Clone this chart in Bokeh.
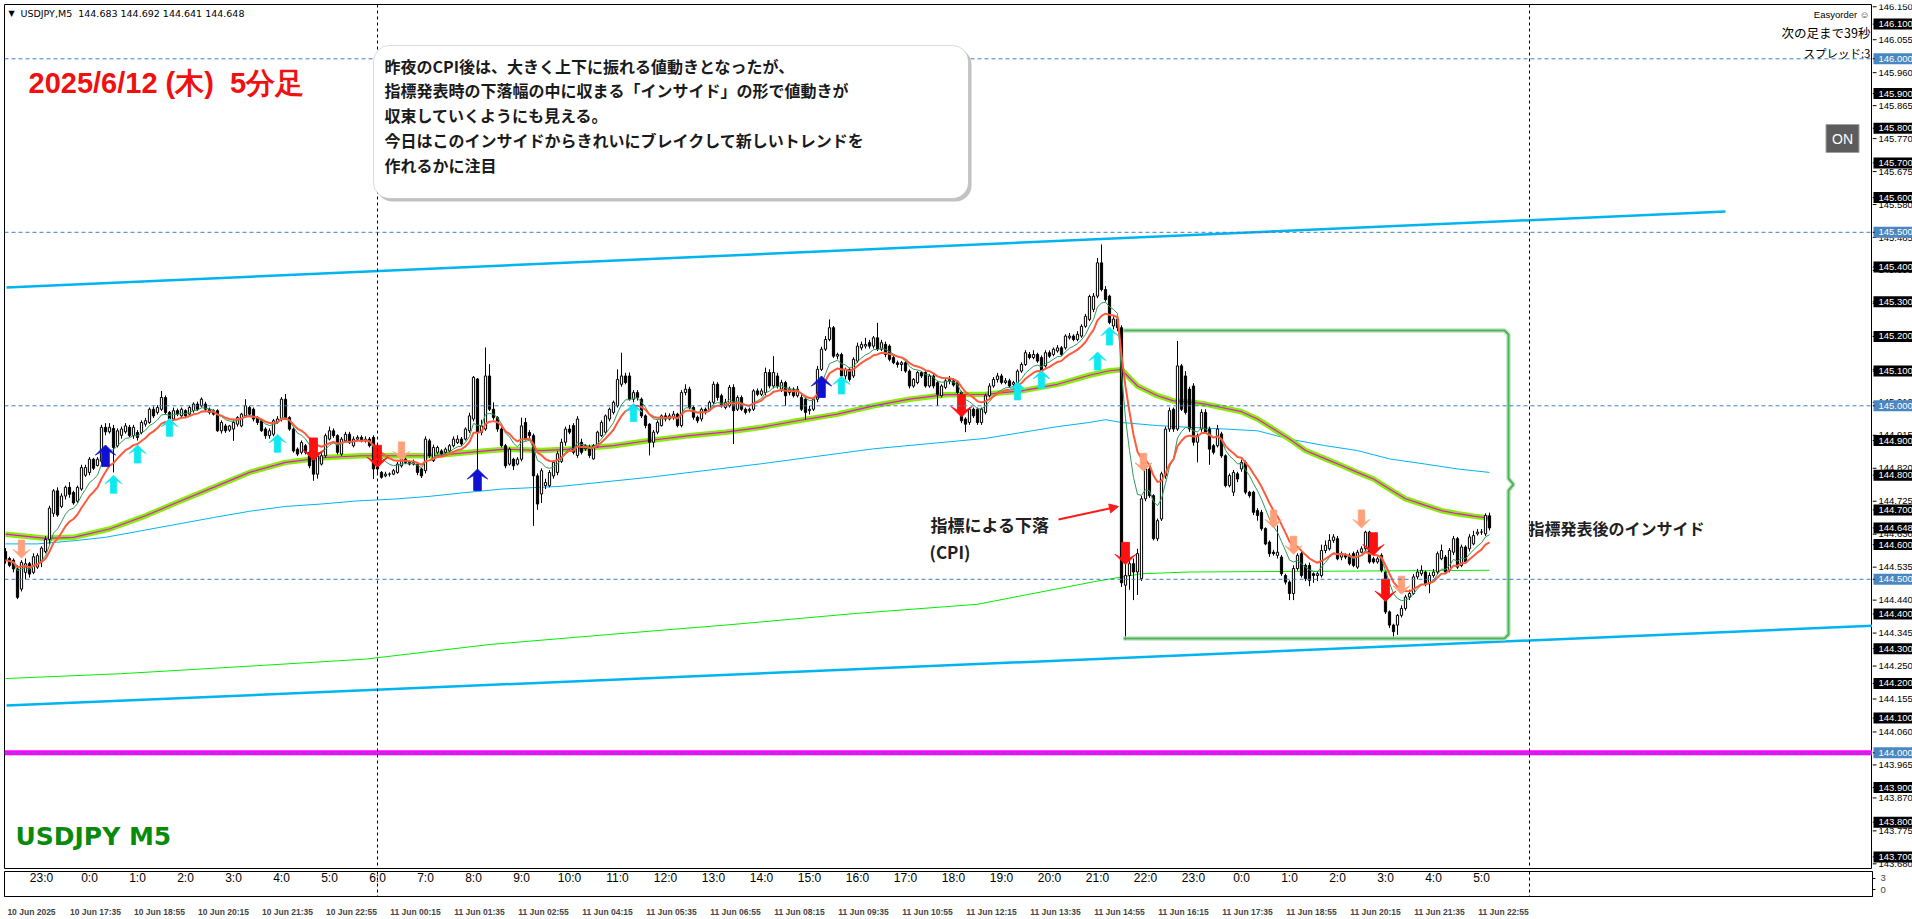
import numpy as np
from bokeh.plotting import figure
from bokeh.layouts import column, row
from bokeh.models import (Range1d, FixedTicker, Label, BoxAnnotation,
                          Arrow, NormalHead, Span, ColumnDataSource)
from bokeh.embed import file_html
from bokeh.resources import INLINE
from bokeh.core.properties import value

# ---------------- data (prices stored as thousandths above 144.000) ----------------
BASE = 144.0
o_pts = [580,560,555,530,472,520,545,520,535,550,
         580,615,690,755,710,740,765,750,725,760,
         800,808,846,828,840,938,925,935,885,915,
         925,938,914,923,923,947,952,990,981,990,
         1024,981,962,986,971,986,976,986,1005,1000,
         1005,990,986,986,928,942,930,933,947,942,
         971,995,990,966,957,933,914,918,952,962,
         1019,966,933,875,866,885,866,894,803,832,
         856,904,928,914,861,899,918,885,904,909,
         899,904,909,837,808,798,803,803,808,827,
         846,837,832,832,818,813,899,842,866,870,
         866,870,885,894,904,904,928,962,1077,923,
         933,1086,990,966,933,885,832,846,832,846,
         952,923,914,798,746,770,770,798,808,840,
         895,933,943,857,895,876,881,847,885,914,
         924,962,981,1000,1062,1086,1086,1019,1038,1019,
         971,947,895,924,943,971,962,966,976,943,
         1038,1048,995,967,962,990,990,1010,1062,1029,
         995,1000,1053,990,1024,990,986,990,1043,1033,
         1038,1096,1057,1086,1048,1067,1038,1048,1029,1024,
         1019,986,990,1019,1105,1163,1191,1225,1143,1148,
         1086,1105,1086,1129,1167,1172,1182,1172,1196,1163,
         1177,1172,1139,1124,1119,1124,1100,1057,1067,1096,
         1096,1057,1086,1067,1029,1053,1072,1072,1067,1038,
         962,952,990,990,952,981,1029,1057,1076,1086,
         1067,1072,1062,1067,1100,1119,1148,1139,1148,1139,
         1115,1153,1148,1158,1167,1167,1196,1201,1191,1201,
         1229,1249,1278,1316,1412,1335,1316,1230,1250,1225,
         483,511,545,521,502,732,818,741,617,674,
         799,933,990,933,1115,1086,1048,1057,895,933,
         981,933,885,885,919,856,770,751,804,818,
         837,751,751,698,693,646,607,578,569,564,
         511,492,459,531,574,540,540,516,511,511,
         583,588,612,617,564,569,569,574,535,578,
         588,636,559,550,569,521,406,368,368,396,
         416,449,459,507,516,521,487,511,521,559,
         564,526,578,617,540,593,588,602,631,636,
         631,683]
h_pts = [590,565,560,540,555,560,550,575,575,595,
         625,712,760,765,748,770,780,755,770,830,
         830,852,850,852,945,950,950,945,935,940,
         950,945,945,930,958,965,995,998,1002,1043,
         1030,985,995,992,995,990,1000,1010,1012,1024,
         1012,995,990,990,958,948,945,958,970,980,
         1019,1000,995,970,962,938,935,962,970,1025,
         1034,970,938,880,900,890,870,900,862,865,
         920,940,935,918,910,925,925,912,915,915,
         912,910,915,842,812,810,808,818,838,855,
         850,842,845,838,822,912,905,888,885,875,
         880,890,912,915,910,938,980,1086,1080,960,
         1168,1120,1010,970,938,890,880,850,852,966,
         965,930,920,805,820,790,815,842,870,905,
         940,945,950,970,905,890,888,890,928,958,
         975,995,1015,1105,1153,1095,1096,1045,1045,1024,
         975,950,930,958,975,980,978,985,980,1045,
         1062,1055,1000,972,995,995,1015,1070,1068,1035,
         1020,1060,1062,1030,1030,995,995,1048,1050,1050,
         1110,1105,1143,1095,1075,1072,1055,1053,1057,1033,
         1024,1000,1024,1115,1170,1201,1249,1230,1153,1153,
         1110,1110,1140,1182,1185,1196,1190,1201,1239,1190,
         1185,1177,1145,1130,1129,1129,1105,1080,1100,1100,
         1100,1092,1092,1072,1062,1080,1086,1080,1072,1043,
         967,995,995,995,995,1035,1065,1083,1095,1092,
         1080,1078,1072,1105,1125,1160,1155,1160,1153,1145,
         1160,1160,1168,1175,1172,1206,1210,1206,1215,1235,
         1265,1320,1325,1426,1465,1345,1320,1258,1255,1232,
         545,560,560,588,740,828,830,745,675,810,
         940,995,995,1187,1120,1100,1055,1065,920,990,
         990,940,890,945,925,860,805,815,810,845,
         842,755,755,705,700,650,612,585,655,570,
         516,497,540,575,580,545,548,520,522,600,
         612,630,630,625,580,575,575,580,585,595,
         640,640,565,565,575,525,410,372,400,425,
         455,470,515,530,540,525,520,530,580,600,
         570,590,625,622,600,598,630,640,645,645,
         690,692]
l_pts = [545,535,520,443,465,500,505,515,530,535,
         575,600,680,680,705,730,735,715,720,755,
         795,800,815,825,835,915,920,808,880,905,
         920,910,905,900,918,940,948,965,975,985,
         975,955,958,970,968,965,972,980,985,995,
         985,975,972,925,920,922,925,899,940,938,
         965,970,955,945,925,905,905,912,948,955,
         960,928,865,855,860,860,820,784,790,828,
         850,900,908,860,855,895,890,880,898,895,
         894,880,789,805,790,794,796,800,804,822,
         832,828,828,800,792,805,850,838,860,856,
         862,866,880,890,885,900,922,955,789,915,
         928,985,960,925,880,820,828,815,828,840,
         900,905,654,700,720,760,765,790,800,835,
         885,918,860,850,860,870,850,845,880,910,
         918,955,975,995,1055,1062,1015,1010,1015,965,
         935,857,880,918,940,955,958,960,938,938,
         1030,990,960,950,955,975,985,1005,1015,995,
         990,995,890,985,985,975,980,985,1028,1028,
         1030,1050,1050,1050,1040,1000,1030,1024,1024,985,
         960,975,985,1010,1100,1158,1186,1138,1134,1080,
         1076,1070,1080,1124,1160,1165,1165,1165,1158,1158,
         1140,1128,1120,1110,1100,1095,1050,1052,1062,1080,
         1052,1052,1050,1000,1024,1048,1062,1055,1033,950,
         924,945,965,945,945,975,1024,1052,1067,1062,
         1062,1052,1057,1062,1095,1115,1134,1134,1124,1090,
         1110,1138,1143,1153,1143,1162,1191,1186,1186,1196,
         1225,1244,1270,1310,1330,1300,1235,1220,1215,478,
         325,470,440,455,495,725,735,612,610,668,
         790,925,925,928,985,975,925,885,837,925,
         920,830,860,880,850,765,765,740,780,810,
         745,735,685,669,640,598,565,568,560,510,
         485,440,440,525,505,495,480,490,495,505,
         575,583,605,555,555,558,540,535,530,575,
         580,545,545,545,520,400,360,330,340,390,
         410,440,455,500,510,480,460,505,515,555,
         515,520,570,530,535,545,580,598,626,628,
         625,641]
c_pts = [555,540,530,448,549,545,515,565,568,590,
         615,705,755,685,740,765,745,720,765,822,
         822,846,820,846,938,925,938,880,928,933,
         942,914,938,909,952,957,990,971,995,1024,
         981,962,986,976,990,971,995,1005,990,1019,
         990,981,976,928,952,928,942,952,966,976,
         1000,976,962,952,928,914,928,957,962,1019,
         966,933,870,861,894,866,827,803,856,856,
         914,928,914,866,904,918,894,904,909,899,
         904,885,818,818,794,803,803,813,832,846,
         837,832,837,808,798,904,856,880,880,861,
         875,885,904,904,890,933,971,1082,923,942,
         1086,990,966,933,885,827,875,827,846,942,
         904,914,798,717,813,779,808,837,862,895,
         933,924,866,962,866,885,857,885,924,952,
         971,990,1010,1076,1086,1067,1019,1038,1024,971,
         943,895,924,952,971,962,971,976,943,1038,
         1048,995,967,957,990,981,1010,1062,1024,1000,
         1010,1053,986,1024,990,981,990,1043,1033,1043,
         1096,1057,1096,1057,1067,1029,1048,1029,1048,990,
         981,990,1019,1105,1163,1191,1225,1143,1148,1086,
         1105,1076,1134,1172,1177,1177,1172,1196,1163,1182,
         1148,1134,1124,1119,1124,1100,1057,1076,1096,1086,
         1057,1086,1057,1033,1057,1072,1076,1060,1038,957,
         947,990,971,952,990,1029,1057,1076,1086,1067,
         1072,1057,1067,1100,1119,1153,1139,1148,1129,1096,
         1153,1143,1163,1167,1148,1201,1201,1191,1206,1229,
         1258,1315,1316,1412,1335,1306,1240,1250,1225,490,
         511,545,521,574,732,818,741,617,669,804,
         933,986,933,1115,990,981,933,895,914,981,
         924,875,866,933,856,770,799,808,789,837,
         751,741,693,684,646,602,574,574,578,516,
         492,459,531,569,511,502,497,511,516,583,
         598,612,622,559,574,564,545,540,578,588,
         636,550,550,559,526,406,368,349,396,416,
         449,459,507,521,526,487,511,521,574,583,
         521,583,617,535,593,550,622,626,636,636,
         684,648]

# slow moving average (thick lime band), read at sample bars
ma_slow_bar = [0,10,17,26,35,43,52,61,70,80,89,98,107,116,125,134,143,152,161,171,
               180,189,198,208,217,226,235,245,254,263,271,276,279,283,288,292,296,300,304,309,
               313,317,321,325,330,334,338,342,346,350,355,359,363,367,371]
ma_slow_pts = [630,618,621,645,683,722,765,808,837,851,856,856,856,866,875,871,876,885,900,914,
               924,938,957,976,1000,1019,1032,1033,1043,1062,1088,1101,1104,1057,1029,1014,1011,1005,995,983,
               962,933,904,871,847,828,808,789,760,732,713,698,689,682,676]
# higher-timeframe MA (thin sky blue)
ma_blue_bar = [0,8,17,25,34,43,52,61,70,79,88,97,106,115,124,139,161,189,217,245,263,271,275,279,
               288,296,305,313,321,330,338,346,355,363,371]
ma_blue_pts = [602,602,611,621,640,659,678,696,710,717,726,731,739,750,760,768,794,833,876,906,940,952,960,952,
               943,938,933,928,904,885,871,847,832,818,808]
# higher-timeframe MA (thin bright green)
ma_lime_bar = [0,29,60,90,121,151,182,212,243,273,284,296,371]
ma_lime_pts = [214,228,249,270,312,341,370,401,428,495,516,521,526]

# trend channel lines (bar, pts)
chan_up_bar = [0.25, 430]
chan_up_pts = [1341, 1560]
chan_lo_bar = [0.25, 466.75]
chan_lo_pts = [136, 366]

# signal arrows
arrow_bar = [25, 27, 33, 41, 68, 118, 157, 204, 209, 253, 259, 273, 276,
             4, 77, 93, 99, 239, 280, 284.5, 317, 322, 339, 342, 345, 349]
arrow_pts = [856, 774, 861, 938, 892, 787, 981, 1055, 1060, 1043, 1076, 1129, 1201,
             587, 875, 854, 870, 1000, 574, 837, 674, 598, 674, 602, 468, 483]
arrow_kind = ["up_blue", "up_cyan", "up_cyan", "up_cyan", "up_cyan", "up_blue", "up_cyan", "up_blue",
              "up_cyan", "up_cyan", "up_cyan", "up_cyan", "up_cyan",
              "dn_salmon", "dn_red", "dn_red", "dn_salmon", "dn_red", "dn_red", "dn_salmon",
              "dn_salmon", "dn_salmon", "dn_salmon", "dn_red", "dn_red", "dn_salmon"]

# price scale ticks / labels
axis_ticks = [143.680, 143.775, 143.870, 143.965, 144.060, 144.155, 144.250, 144.345, 144.440,
              144.535, 144.630, 144.725, 144.820, 144.915, 145.010, 145.105, 145.200, 145.295,
              145.390, 145.485, 145.580, 145.675, 145.770, 145.865, 145.960, 146.055, 146.150]
level_black = [143.700, 143.800, 143.900, 144.100, 144.200, 144.300, 144.400, 144.600, 144.700,
               144.800, 144.900, 145.100, 145.200, 145.300, 145.400, 145.600, 145.700, 145.800,
               145.900, 146.100]
level_blue = [144.000, 144.500, 145.000, 145.500, 146.000]
current_price = 144.648
hour_labels = ["23:0", "0:0", "1:0", "2:0", "3:0", "4:0", "5:0", "6:0", "7:0", "8:0", "9:0", "10:0",
               "11:0", "12:0", "13:0", "14:0", "15:0", "16:0", "17:0", "18:0", "19:0", "20:0",
               "21:0", "22:0", "23:0", "0:0", "1:0", "2:0", "3:0", "4:0", "5:0"]
date_labels = ["10 Jun 2025", "10 Jun 17:35", "10 Jun 18:55", "10 Jun 20:15", "10 Jun 21:35",
               "10 Jun 22:55", "11 Jun 00:15", "11 Jun 01:35", "11 Jun 02:55", "11 Jun 04:15",
               "11 Jun 05:35", "11 Jun 06:55", "11 Jun 08:15", "11 Jun 09:35", "11 Jun 10:55",
               "11 Jun 12:15", "11 Jun 13:35", "11 Jun 14:55", "11 Jun 16:15", "11 Jun 17:35",
               "11 Jun 18:55", "11 Jun 20:15", "11 Jun 21:35", "11 Jun 22:55"]
day_sep_bars = [93, 381]

callout_lines = ["昨夜のCPI後は、大きく上下に振れる値動きとなったが、",
                 "指標発表時の下落幅の中に収まる「インサイド」の形で値動きが",
                 "収束していくようにも見える。",
                 "今日はこのインサイドからきれいにブレイクして新しいトレンドを",
                 "作れるかに注目"]

# ---------------- layout helpers (page pixel -> data) ----------------
BAR_PX = 4.0
PRICE_PX = 347.0
def bx(xpx):
    return (xpx - 5.0) / BAR_PX
def py(ypx):
    return 146.0 - (ypx - 58.3) / PRICE_PX
def dxp(px):
    return px / BAR_PX
def dyp(px):
    return px / PRICE_PX

FRAME_L, FRAME_R = 4, 1872
FRAME_T, FRAME_B = 4, 869
FRAME_W = FRAME_R - FRAME_L
FRAME_H = FRAME_B - FRAME_T
xr = Range1d(bx(FRAME_L), bx(FRAME_R))
yr = Range1d(py(FRAME_B), py(FRAME_T))

JP = "Noto Sans CJK JP"
SANS = "Liberation Sans"

p = figure(frame_width=FRAME_W, frame_height=FRAME_H, x_range=xr, y_range=yr,
           x_axis_location=None, y_axis_location=None, toolbar_location=None,
           output_backend="svg", min_border_left=FRAME_L, min_border_right=0,
           min_border_top=FRAME_T, min_border_bottom=0)
p.xgrid.visible = False
p.ygrid.visible = False
p.outline_line_color = "black"
p.outline_line_width = 1
p.background_fill_color = "white"
p.border_fill_color = "white"

# horizontal dashed levels and magenta line
p.add_layout(Span(location=144.0, dimension="width", line_color="#ff00ff", line_width=5))
for lv in level_blue:
    p.add_layout(Span(location=lv, dimension="width", line_color="#3c7fc0",
                      line_dash="4 3", line_width=1))
for b in day_sep_bars:
    p.add_layout(Span(location=b, dimension="height", line_color="black",
                      line_dash="3 3", line_width=1))

n = min(len(o_pts), len(h_pts), len(l_pts), len(c_pts))
xb = np.arange(n)
o = BASE + np.array(o_pts[:n]) / 1000.0
h = BASE + np.array(h_pts[:n]) / 1000.0
l = BASE + np.array(l_pts[:n]) / 1000.0
c = BASE + np.array(c_pts[:n]) / 1000.0
up = c >= o

def ema(vals, period):
    a = 2.0 / (period + 1)
    out = [float(vals[0])]
    for v in vals[1:]:
        out.append(out[-1] + a * (v - out[-1]))
    return np.array(out)

# channel lines and higher-timeframe MAs
p.line(chan_up_bar, BASE + np.array(chan_up_pts) / 1000.0, line_color="#00b4f0", line_width=2.5)
p.line(chan_lo_bar, BASE + np.array(chan_lo_pts) / 1000.0, line_color="#00b4f0", line_width=2.5)
p.line(ma_lime_bar, BASE + np.array(ma_lime_pts) / 1000.0, line_color="#00ee00", line_width=1)
p.line(ma_blue_bar, BASE + np.array(ma_blue_pts) / 1000.0, line_color="#00b4f0", line_width=1)
p.line(ma_slow_bar, BASE + np.array(ma_slow_pts) / 1000.0, line_color="#84f000", line_width=5.5)
p.line(ma_slow_bar, BASE + np.array(ma_slow_pts) / 1000.0, line_color="#ff00ff", line_width=1.2)

# candles
p.segment(xb, h, xb, l, line_color="black", line_width=1)
src_up = ColumnDataSource(dict(x=xb[up], top=c[up], bottom=o[up]))
src_dn = ColumnDataSource(dict(x=xb[~up], top=o[~up], bottom=c[~up]))
p.vbar(x="x", top="top", bottom="bottom", width=0.55, source=src_up,
       fill_color="white", line_color="black", line_width=1)
p.vbar(x="x", top="top", bottom="bottom", width=0.55, source=src_dn,
       fill_color="black", line_color="black", line_width=1)

# fast MAs
p.line(xb, ema(c, 8), line_color="#2e9a5a", line_width=1)
p.line(xb, ema(c, 13), line_color="#ff5a3c", line_width=2)

# signal arrows (chunky chevron arrows)
SHAPE = [(0, 9), (8.5, 0.5), (3.2, 3.5), (3.2, -9), (-3.2, -9), (-3.2, 3.5), (-8.5, 0.5)]
ARROW_COL = {"up_cyan": "#10e8f0", "up_blue": "#1010d0", "dn_red": "#ff1010", "dn_salmon": "#ffa07a"}
ARROW_SCALE = {"up_cyan": 1.0, "up_blue": 1.2, "dn_red": 1.25, "dn_salmon": 1.0}
axs, ays, acol = [], [], []
for b, v, k in zip(arrow_bar, arrow_pts, arrow_kind):
    s = ARROW_SCALE[k]
    sign = 1 if k.startswith("up") else -1
    yc = BASE + v / 1000.0
    axs.append([b + dxp(dx * s) for dx, dy in SHAPE])
    ays.append([yc + sign * dyp(dy * s) for dx, dy in SHAPE])
    acol.append(ARROW_COL[k])
p.patches(axs, ays, fill_color=acol, line_color=acol, line_width=0.8)

# green bracket around post-CPI range
L, R = bx(1123), bx(1508)
T, B, M = py(330), py(638), py(484)
brx = [L, R - dxp(4), R, R, R + dxp(5), R, R, R - dxp(4), L]
bry = [T, T, T - dyp(4), M + dyp(6), M, M - dyp(6), B + dyp(4), B, B]
p.line(brx, bry, line_color="#b8e0bc", line_width=5, line_alpha=0.7)
p.line(brx, bry, line_color="#44b050", line_width=2, line_alpha=0.95)

# CPI arrow and notes
p.add_layout(Arrow(end=NormalHead(size=9, fill_color="#ff1a1a", line_color="#ff1a1a"),
                   x_start=bx(1058), y_start=py(519), x_end=bx(1118), y_end=py(506),
                   line_color="#ff1a1a", line_width=2))
p.add_layout(Label(x=bx(930), y=py(524), text="指標による下落", text_font=JP,
                   text_font_size="17px", text_color="#202020", text_baseline="middle",
                   text_font_style="bold"))
p.add_layout(Label(x=bx(929), y=py(551), text="(CPI)", text_font=JP,
                   text_font_size="17px", text_color="#202020", text_baseline="middle",
                   text_font_style="bold"))
p.add_layout(Label(x=bx(1528), y=py(527), text="指標発表後のインサイド", text_font=JP,
                   text_font_size="16px", text_color="#202020", text_baseline="middle",
                   text_font_style="bold"))

# callout box
p.add_layout(BoxAnnotation(left=bx(376), right=bx(971), top=py(48), bottom=py(201),
                           fill_color="#9a9a9a", fill_alpha=0.6, line_color=None, border_radius=16))
p.add_layout(BoxAnnotation(left=bx(373), right=bx(968), top=py(45), bottom=py(198),
                           fill_color="white", fill_alpha=1.0, line_color="#8a8a8a",
                           line_width=1, border_radius=16))
for i, t in enumerate(callout_lines):
    p.add_layout(Label(x=bx(384), y=py(65 + 24.9 * i), text=t, text_font=JP,
                       text_font_size="16px", text_color="#1a1a1a", text_baseline="middle",
                       text_font_style="bold"))

# titles / info texts
p.add_layout(Label(x=bx(28), y=py(82), text="2025/6/12 (木)\u00a0\u00a05分足", text_font=SANS,
                   text_font_size="29px", text_font_style="bold", text_color="#f01010",
                   text_baseline="middle"))
p.add_layout(Label(x=bx(15), y=py(836), text="USDJPY M5", text_font="DejaVu Sans",
                   text_font_size="25px", text_font_style="bold", text_color="#0a8a0a",
                   text_baseline="middle"))
p.add_layout(Label(x=bx(8), y=py(13), text="▼", text_font="DejaVu Sans",
                   text_font_size="8px", text_color="black", text_baseline="middle"))
p.add_layout(Label(x=bx(20), y=py(13), text="USDJPY,M5\u00a0\u00a0144.683 144.692 144.641 144.648",
                   text_font="DejaVu Sans", text_font_size="9.5px", text_color="black",
                   text_baseline="middle"))
p.add_layout(Label(x=bx(1869), y=py(14), text="Easyorder ☺", text_font=SANS,
                   text_font_size="9.5px", text_color="black", text_align="right", text_baseline="middle"))
p.add_layout(Label(x=bx(1870), y=py(32), text="次の足まで39秒", text_font=JP,
                   text_font_size="12.5px", text_color="black", text_align="right", text_baseline="middle"))
p.add_layout(Label(x=bx(1870), y=py(52), text="スプレッド:3", text_font=JP,
                   text_font_size="11.5px", text_color="black", text_align="right", text_baseline="middle"))
p.add_layout(Label(x=bx(1842), y=py(138), text="ON", text_font=SANS, text_font_size="14px",
                   text_color="white", text_align="center", text_baseline="middle",
                   background_fill_color="#5c5c5c", border_line_color="#a0a0a0", padding=6))

# ---------------- price scale strip on the right ----------------
SCALE_W = 1912 - FRAME_R
r = figure(frame_width=SCALE_W, frame_height=FRAME_H, x_range=Range1d(0, SCALE_W), y_range=yr,
           x_axis_location=None, y_axis_location=None, toolbar_location=None,
           output_backend="svg", min_border_left=0, min_border_right=0,
           min_border_top=FRAME_T, min_border_bottom=0)
r.xgrid.visible = False
r.ygrid.visible = False
r.outline_line_color = None
r.segment(x0=0, y0=axis_ticks, x1=4, y1=axis_ticks, line_color="black", line_width=1)
r.text(x=6, y=axis_ticks, text=[f"{t:.3f}" for t in axis_ticks], text_font=value(SANS),
       text_font_size="9.5px", text_color="black", text_baseline="middle", text_align="left")
box_levels = level_black + level_blue + [current_price]
box_cols = ["black"] * len(level_black) + ["#4a86c0"] * len(level_blue) + ["black"]
half = dyp(5.5)
r.quad(left=1, right=SCALE_W, top=[v + half for v in box_levels], bottom=[v - half for v in box_levels],
       fill_color=box_cols, line_color=None)
r.segment(x0=0, y0=box_levels, x1=2, y1=box_levels, line_color="black", line_width=1)
r.text(x=6, y=box_levels, text=[f"{v:.3f}" for v in box_levels], text_font=value(SANS),
       text_font_size="9.5px", text_color="white", text_baseline="middle", text_align="left")

# ---------------- sub window with hour labels and date axis ----------------
q = figure(frame_width=FRAME_W, frame_height=25, x_range=xr, y_range=Range1d(-1.909, 4.909),
           x_axis_location="below", y_axis_location="right", toolbar_location=None,
           output_backend="svg", min_border_left=FRAME_L, min_border_right=SCALE_W,
           min_border_top=2, min_border_bottom=0, height=50)
q.xgrid.visible = False
q.ygrid.visible = False
q.outline_line_color = "black"
for b in day_sep_bars:
    q.add_layout(Span(location=b, dimension="height", line_color="black",
                      line_dash="3 3", line_width=1))
hour_bars = [9 + 12 * i for i in range(len(hour_labels))]
q.text(x=hour_bars, y=[3.0] * len(hour_bars), text=hour_labels, text_align="center",
       text_baseline="middle", text_font=value(SANS), text_font_size="12px", text_color="black")
qa = q.yaxis[0]
qa.ticker = FixedTicker(ticks=[0, 3])
qa.major_label_text_font = SANS
qa.major_label_text_font_size = "9.5px"
qa.major_tick_out = 3
qa.major_tick_in = 0
qa.minor_tick_line_color = None
qa.axis_line_color = "black"
xa = q.xaxis[0]
date_pos = [16 * i + 6.5 for i in range(len(date_labels))]
xa.ticker = FixedTicker(ticks=date_pos)
xa.major_label_overrides = {pos: t for pos, t in zip(date_pos, date_labels)}
xa.major_label_text_font = SANS
xa.major_label_text_font_style = "bold"
xa.major_label_text_font_size = "8.5px"
xa.major_tick_line_color = None
xa.minor_tick_line_color = None
xa.major_label_standoff = 4
xa.axis_line_color = "black"

layout = column(row(p, r, spacing=0), q, spacing=0)
open("out.html", "w").write(file_html(layout, INLINE))
